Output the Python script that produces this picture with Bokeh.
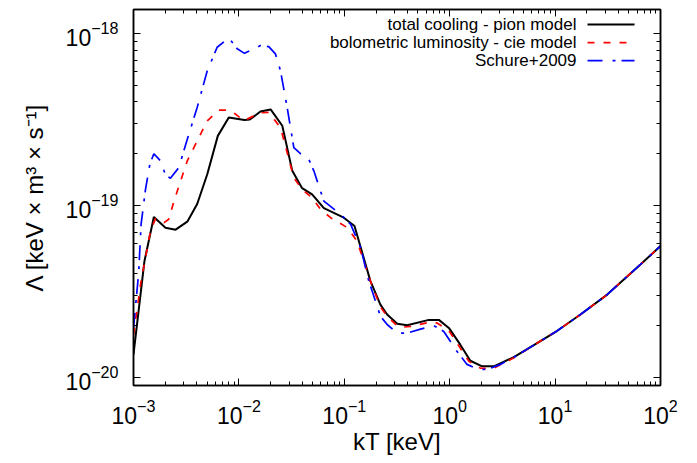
import math
from bokeh.plotting import figure
from bokeh.models import LogAxis, Label, Range1d, CustomJSTickFormatter, LogTicker
from bokeh.embed import file_html
from bokeh.resources import INLINE

# ---- data ----
kt_pion = [1.00e-3, 1.27e-3, 1.56e-3, 2.01e-3, 2.51e-3, 3.24e-3, 4.02e-3, 5.01e-3,
           6.31e-3, 8.02e-3, 1.13e-2, 1.27e-2, 1.60e-2, 2.00e-2, 2.58e-2, 3.21e-2,
           3.98e-2, 4.95e-2, 6.40e-2, 9.89e-2, 1.25e-1, 1.77e-1, 2.20e-1, 2.55e-1,
           3.18e-1, 3.95e-1, 6.34e-1, 7.89e-1, 9.82e-1, 1.26, 1.57, 2.03, 2.62,
           4.06, 6.28, 10.4, 17.4, 31.2, 64.6, 100.0]
lam_pion = [1.36e-20, 4.74e-20, 8.57e-20, 7.43e-20, 7.23e-20, 8.05e-20, 1.02e-19, 1.52e-19,
            2.54e-19, 3.25e-19, 3.14e-19, 3.16e-19, 3.52e-19, 3.62e-19, 2.91e-19, 1.59e-19,
            1.26e-19, 1.16e-19, 9.64e-20, 8.49e-20, 7.59e-20, 3.63e-20, 2.65e-20, 2.32e-20,
            2.05e-20, 2.01e-20, 2.16e-20, 2.16e-20, 1.94e-20, 1.55e-20, 1.25e-20, 1.16e-20, 1.16e-20,
            1.31e-20, 1.54e-20, 1.86e-20, 2.32e-20, 3.03e-20, 4.54e-20, 5.81e-20]

kt_cie = [1.00e-3, 1.18e-3, 1.45e-3, 1.62e-3, 1.95e-3, 2.16e-3, 2.42e-3, 3.24e-3,
          4.33e-3, 5.01e-3, 6.46e-3, 8.02e-3, 9.29e-3, 1.11e-2, 1.60e-2, 1.92e-2,
          2.48e-2, 3.32e-2, 3.98e-2, 4.95e-2, 5.94e-2, 7.41e-2, 1.07e-1, 1.32e-1,
          1.77e-1, 2.20e-1, 2.55e-1, 3.29e-1, 4.25e-1, 6.58e-1, 7.60e-1, 9.82e-1,
          1.26, 1.52, 1.96, 2.62, 4.06, 6.28, 10.4, 17.4, 31.2, 64.6, 100.0]
lam_cie = [1.77e-20, 3.63e-20, 7.10e-20, 8.41e-20, 7.94e-20, 8.32e-20, 1.06e-19, 1.82e-19,
           2.60e-19, 3.11e-19, 3.59e-19, 3.59e-19, 3.40e-19, 3.11e-19, 3.46e-19, 3.48e-19,
           2.84e-19, 1.45e-19, 1.24e-19, 1.11e-19, 9.51e-20, 8.49e-20, 7.43e-20, 6.21e-20,
           3.63e-20, 2.57e-20, 2.27e-20, 1.95e-20, 1.98e-20, 2.10e-20, 2.07e-20, 1.87e-20,
           1.48e-20, 1.24e-20, 1.13e-20, 1.13e-20, 1.30e-20, 1.54e-20, 1.86e-20, 2.32e-20,
           3.03e-20, 4.54e-20, 5.81e-20]

kt_schure = [1.00e-3, 1.12e-3, 1.18e-3, 1.30e-3, 1.43e-3, 1.56e-3, 1.80e-3, 2.01e-3,
             2.24e-3, 2.69e-3, 3.24e-3, 4.02e-3, 5.01e-3, 6.22e-3, 8.02e-3, 9.64e-3,
             1.13e-2, 1.39e-2, 1.60e-2, 1.92e-2, 2.22e-2, 2.48e-2, 2.87e-2, 3.32e-2,
             3.84e-2, 4.60e-2, 5.14e-2, 6.40e-2, 9.20e-2, 1.15e-1, 1.43e-1, 1.71e-1,
             2.20e-1, 2.55e-1, 3.18e-1, 3.95e-1, 5.28e-1, 7.06e-1, 8.79e-1, 1.17,
             1.46, 1.82, 2.26, 3.03, 4.06, 6.28, 10.4, 17.4, 31.2, 64.6, 100.0]
lam_schure = [1.94e-20, 4.06e-20, 7.76e-20, 1.24e-19, 1.74e-19, 2.00e-19, 1.82e-19, 1.51e-19,
              1.44e-19, 1.66e-19, 2.43e-19, 3.72e-19, 6.08e-19, 8.32e-19, 9.44e-19, 8.15e-19,
              7.67e-19, 8.15e-19, 8.51e-19, 8.39e-19, 7.62e-19, 6.08e-19, 3.72e-19, 2.17e-19,
              2.00e-19, 1.86e-19, 1.59e-19, 1.06e-19, 8.89e-20, 7.76e-20, 5.68e-20, 3.63e-20,
              2.27e-20, 2.03e-20, 1.81e-20, 1.81e-20, 1.91e-20, 2.00e-20, 1.85e-20, 1.42e-20,
              1.19e-20, 1.12e-20, 1.11e-20, 1.19e-20, 1.31e-20, 1.54e-20, 1.86e-20, 2.32e-20,
              3.03e-20, 4.54e-20, 5.81e-20]

series_labels = ["total cooling - pion model", "bolometric luminosity - cie model", "Schure+2009"]
x_label = "kT [keV]"
y_label = "Λ [keV × m³ × s⁻¹]"

X_MIN, X_MAX = 1e-3, 1e2
Y_MIN, Y_MAX = 8.97e-21, 1.38e-18

FONT = "Liberation Sans"

p = figure(frame_width=527, frame_height=376,
           x_axis_type="log", y_axis_type="log",
           x_range=Range1d(X_MIN, X_MAX), y_range=Range1d(Y_MIN, Y_MAX),
           output_backend="svg", toolbar_location=None,
           min_border_left=133, min_border_right=35, min_border_top=9, min_border_bottom=76)
p.background_fill_color = "white"
p.border_fill_color = "white"
p.outline_line_color = "black"
p.outline_line_width = 1.5
p.xgrid.visible = False
p.ygrid.visible = False


def style_axis(ax):
    ax.axis_line_color = "black"
    ax.axis_line_width = 1.5
    ax.major_tick_in = 7
    ax.major_tick_out = 0
    ax.minor_tick_in = 4
    ax.minor_tick_out = 0
    ax.major_tick_line_color = "black"
    ax.minor_tick_line_color = "black"
    ax.major_tick_line_width = 1
    ax.minor_tick_line_width = 1
    ax.major_label_text_font = FONT
    ax.major_label_text_font_size = "23px"
    ax.major_label_text_color = "black"
    ax.axis_label_text_font = FONT
    ax.axis_label_text_font_size = "24px"
    ax.axis_label_text_font_style = "normal"
    ax.axis_label_text_color = "black"


for ax in p.xaxis:
    style_axis(ax)
    ax.ticker = LogTicker(num_minor_ticks=10)
    ax.axis_label = x_label
    ax.major_label_standoff = 13
    ax.axis_label_standoff = 1
for ax in p.yaxis:
    style_axis(ax)
    ax.ticker = LogTicker(num_minor_ticks=10)
    ax.axis_label = y_label
    ax.major_label_standoff = 15
    ax.axis_label_standoff = 15

blank = CustomJSTickFormatter(code="return ''")
top = LogAxis(ticker=LogTicker(num_minor_ticks=10), formatter=blank)
style_axis(top)
top.major_label_text_font_size = "1px"
top.major_label_standoff = 0
right = LogAxis(ticker=LogTicker(num_minor_ticks=10), formatter=blank)
style_axis(right)
right.major_label_text_font_size = "1px"
right.major_label_standoff = 0
p.add_layout(top, "above")
p.add_layout(right, "right")

p.line(kt_pion, lam_pion, line_color="black", line_width=2)
p.line(kt_cie, lam_cie, line_color="#ff0000", line_width=1.7, line_dash="7 9")
p.line(kt_schure, lam_schure, line_color="#0000ff", line_width=1.7, line_dash="15 10 3 6")

# ---- gnuplot-style key: right-aligned text, sample on its right ----
lx0, lx1 = math.log10(X_MIN), math.log10(X_MAX)
ly0, ly1 = math.log10(Y_MIN), math.log10(Y_MAX)


def fx(f):
    return 10 ** (lx0 + f * (lx1 - lx0))


def fy(f):
    return 10 ** (ly0 + f * (ly1 - ly0))


key_styles = [dict(line_color="black", line_width=2),
              dict(line_color="#ff0000", line_width=1.7, line_dash="7 9"),
              dict(line_color="#0000ff", line_width=1.7, line_dash="15 10 3 6")]
rows = [0.960, 0.912, 0.864]
for lab, st, r in zip(series_labels, key_styles, rows):
    p.add_layout(Label(x=fx(0.8406), y=fy(r), text=lab, text_align="right",
                       text_baseline="middle", text_font=FONT, text_font_size="17px",
                       text_color="black"))
    p.line([fx(0.8615), fx(0.9507)], [fy(r), fy(r)], **st)

open("out.html", "w").write(file_html(p, INLINE))
